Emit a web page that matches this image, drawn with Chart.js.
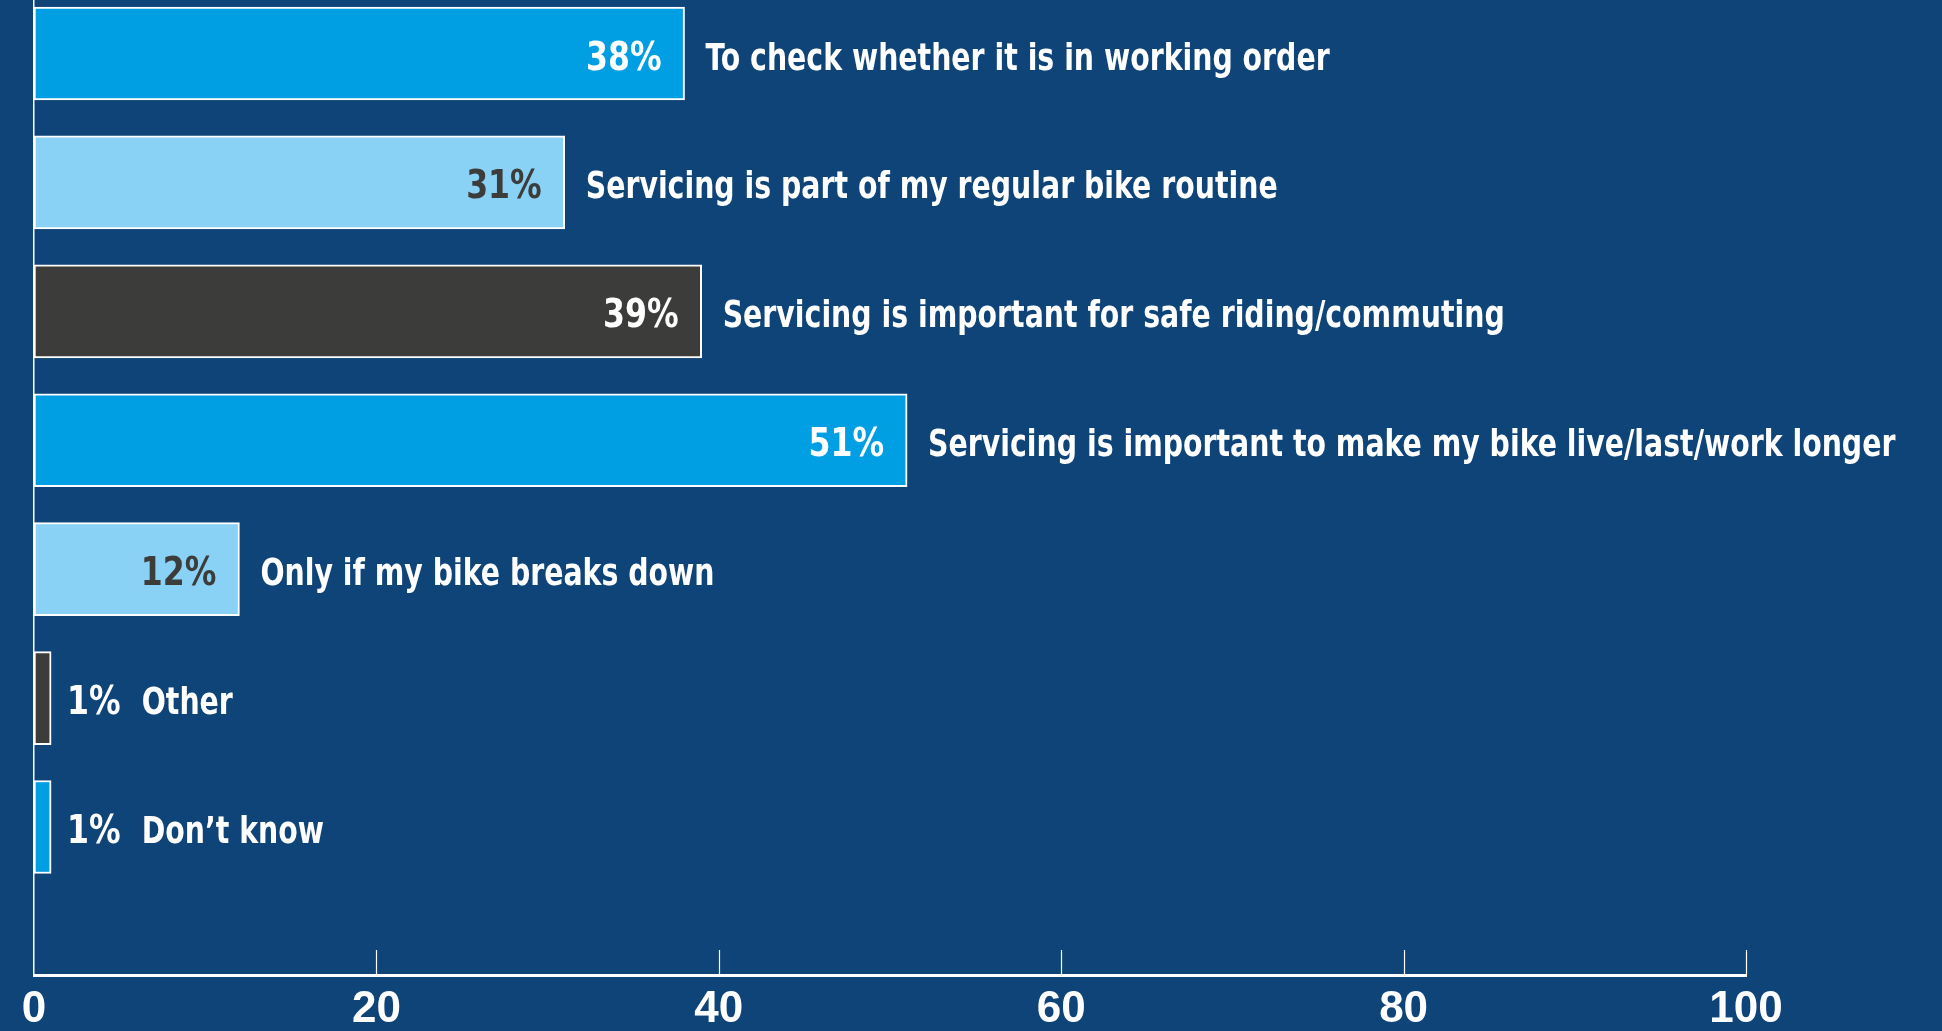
<!DOCTYPE html>
<html>
<head>
<meta charset="utf-8">
<script src="https://cdn.jsdelivr.net/npm/chart.js@4.4.1/dist/chart.umd.min.js"></script>
<style>
  html, body { margin: 0; padding: 0; background: #0f4479; overflow: hidden; }
  #wrap { width: 1942px; height: 1031px; position: relative; }
</style>
</head>
<body>
<div id="wrap"><canvas id="chart"></canvas></div>
<script>
// data
const categories = [
  "To check whether it is in working order",
  "Servicing is part of my regular bike routine",
  "Servicing is important for safe riding/commuting",
  "Servicing is important to make my bike live/last/work longer",
  "Only if my bike breaks down",
  "Other",
  "Don\u2019t know"
];
const values = [38, 31, 39, 51, 12, 1, 1];
const tickValues = [0, 20, 40, 60, 80, 100];

// styles
const barColors = ["#009fe3", "#89d1f5", "#3c3c3b", "#009fe3", "#89d1f5", "#3c3c3b", "#009fe3"];
const valueColors = ["#ffffff", "#3c3c3b", "#ffffff", "#ffffff", "#3c3c3b", "#ffffff", "#ffffff"];
const FONT = "'DejaVu Sans Condensed', 'DejaVu Sans', sans-serif";
const SQUEEZE = 0.83; // the original uses a narrow face

const barLabels = {
  id: "barLabels",
  afterDatasetsDraw(chart) {
    const ctx = chart.ctx;
    const meta = chart.getDatasetMeta(0);
    ctx.save();
    ctx.textBaseline = "alphabetic";
    const put = (txt, x, y, align, color, sq) => {
      ctx.save();
      ctx.translate(x, y);
      ctx.scale(sq, 1);
      ctx.textAlign = align;
      ctx.fillStyle = color;
      ctx.fillText(txt, 0, 0);
      ctx.restore();
      return ctx.measureText(txt).width * sq;
    };
    meta.data.forEach((bar, i) => {
      const end = bar.x;
      const base = bar.y + 16;
      const txt = values[i] + "%";
      if (values[i] >= 5) {
        ctx.font = "bold 39px " + FONT;
        put(txt, end - 23, base, "right", valueColors[i], 0.9);
        ctx.font = "bold 38px " + FONT;
        put(categories[i], end + 21, base, "left", "#ffffff", SQUEEZE);
      } else {
        ctx.font = "bold 39px " + FONT;
        const w = put(txt, end + 16, base, "left", "#ffffff", 0.9);
        ctx.font = "bold 38px " + FONT;
        put(categories[i], end + 16 + w + 21, base, "left", "#ffffff", SQUEEZE);
      }
    });
    ctx.restore();
  }
};

// little tick marks standing up from the x axis
const tickMarks = {
  id: "tickMarks",
  afterDraw(chart) {
    const ctx = chart.ctx;
    const x = chart.scales.x;
    const bottom = chart.chartArea.bottom;
    ctx.save();
    ctx.strokeStyle = "#ffffff";
    ctx.lineWidth = 1.2;
    tickValues.forEach((t) => {
      if (t === 0) return;
      const px = Math.round(x.getPixelForValue(t)) + 0.5;
      ctx.beginPath();
      ctx.moveTo(px, bottom - 25);
      ctx.lineTo(px, bottom);
      ctx.stroke();
    });
    ctx.restore();
  }
};

const bg = {
  id: "bg",
  beforeDraw(chart) {
    const ctx = chart.ctx;
    ctx.save();
    ctx.fillStyle = "#0f4479";
    ctx.fillRect(0, 0, chart.width, chart.height);
    ctx.restore();
  }
};

const data = {
  datasets: [
    {
      data: values.map((v, i) => ({ x: v, y: i })),
      backgroundColor: barColors,
      borderColor: "#ffffff",
      borderWidth: 2,
      borderSkipped: false,
      barThickness: 93,
    },
  ],
};

const configChart = {
  type: "bar",
  data: data,
  plugins: [bg, barLabels, tickMarks],
  options: {
    indexAxis: "y",
    responsive: true,
    maintainAspectRatio: false,
    animation: false,
    devicePixelRatio: 1,
    layout: { padding: { left: 34, right: 196, top: 0, bottom: 0 } },
    plugins: { legend: { display: false }, tooltip: { enabled: false } },
    scales: {
      x: {
        type: "linear",
        min: 0,
        max: 100,
        afterFit: (s) => { s.height = 56; },
        afterBuildTicks: (s) => { s.ticks = tickValues.map((v) => ({ value: v })); },
        grid: { display: false, drawTicks: false },
        border: { display: true, color: "#ffffff", width: 3 },
        ticks: {
          color: "#ffffff",
          padding: 13,
          maxRotation: 0,
          font: { family: "'Liberation Sans', Arial, sans-serif", size: 44, weight: "bold", lineHeight: 1 },
        },
      },
      y: {
        type: "linear",
        reverse: true,
        offset: false,
        min: -0.415,
        max: 7.148,
        afterFit: (s) => { s.width = 0; },
        grid: { display: false, drawTicks: false },
        border: { display: true, color: "#ffffff", width: 1.5 },
        ticks: { display: false },
      },
    },
  },
};

const chart = new Chart(document.getElementById("chart"), configChart);
</script>
</body>
</html>
